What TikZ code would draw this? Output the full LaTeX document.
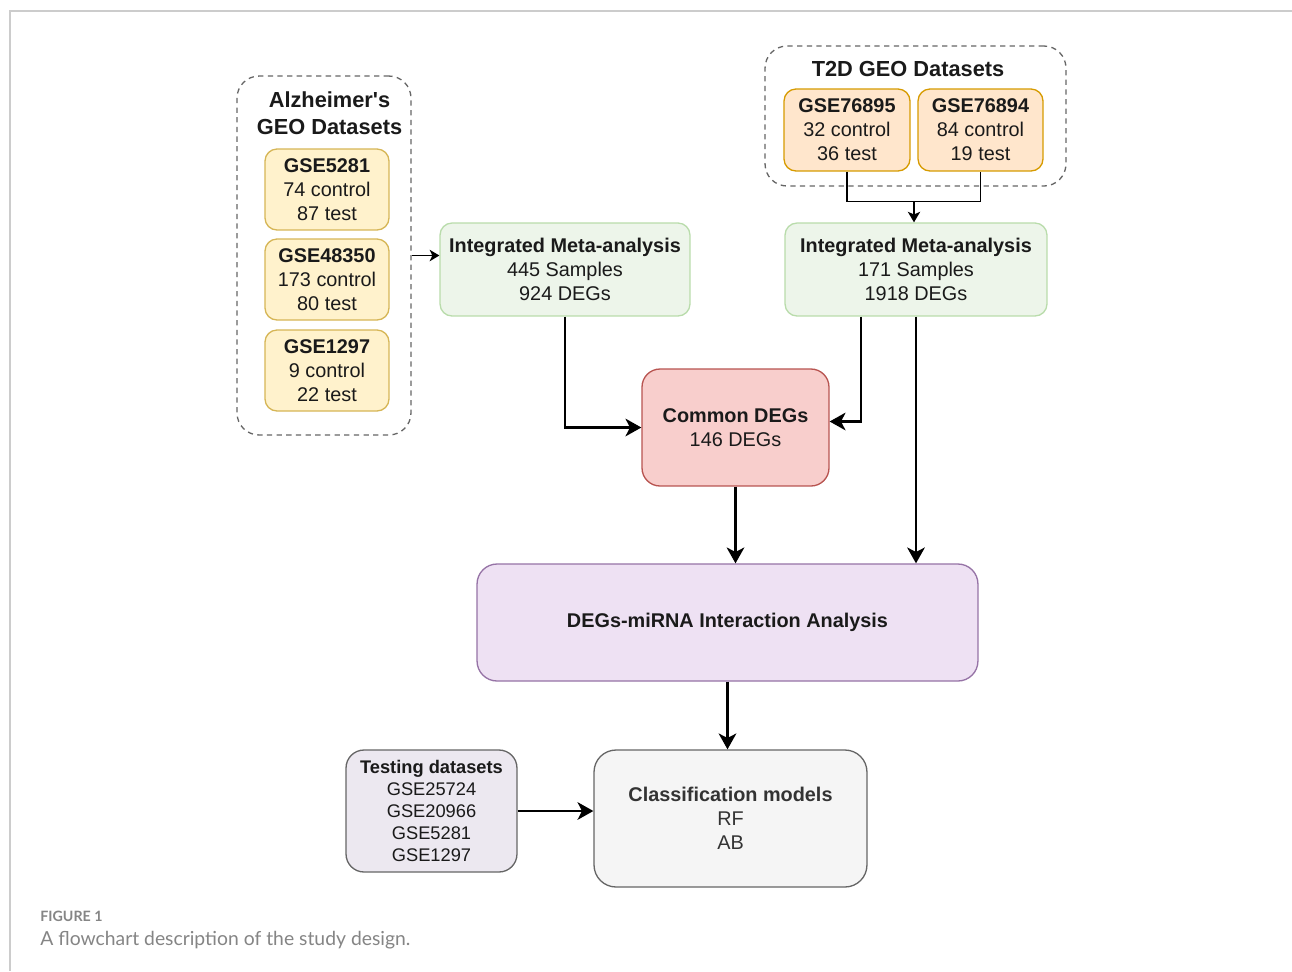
\documentclass[tikz,border=0pt]{standalone}
\usepackage{fontspec}
\setmainfont{Liberation Sans}
\newfontfamily\capfont{Lato}
\usetikzlibrary{arrows.meta,calc}
\definecolor{txt}{HTML}{1A1A1A}
\definecolor{ylwfill}{HTML}{FFF2CC}
\definecolor{ylwdraw}{HTML}{D6B656}
\definecolor{orgfill}{HTML}{FFE6CC}
\definecolor{orgdraw}{HTML}{D79B00}
\definecolor{grnfill}{HTML}{EDF5EA}
\definecolor{grndraw}{HTML}{B9DCAB}
\definecolor{redfill}{HTML}{F8CECC}
\definecolor{reddraw}{HTML}{B85450}
\definecolor{prpfill}{HTML}{EEE1F3}
\definecolor{prpdraw}{HTML}{9673A6}
\definecolor{tstfill}{HTML}{ECE8F0}
\definecolor{gryfill}{HTML}{F5F5F5}
\definecolor{grydraw}{HTML}{666666}
\definecolor{frame}{HTML}{CCCCCC}
\definecolor{captxt}{HTML}{858585}

\begin{document}
\begin{tikzpicture}
[x=.02cm,y=-.02cm,
font=\fontsize{11.3}{13.6}\selectfont,
block/.style={draw,rounded corners=.24cm,line width=.75pt,align=center,inner sep=0pt,text=txt},
dsnode/.style={block,draw=ylwdraw,fill=ylwfill,minimum width=2.48cm,minimum height=1.62cm},
t2node/.style={block,draw=orgdraw,fill=orgfill,minimum height=1.64cm},
meta/.style={block,draw=grndraw,fill=grnfill,minimum height=1.86cm},
group/.style={draw=grydraw,line width=.75pt,dash pattern=on 3pt off 2.5pt,rounded corners=.44cm,inner sep=0pt},
title/.style={font=\fontsize{12.4}{15.3}\selectfont\bfseries,align=center,text=txt},
edge/.style={line width=1.4pt,-{Stealth[length=9pt,width=10pt,inset=2.5pt]}},
thinedge/.style={line width=.8pt,-{Stealth[length=6pt,width=7pt,inset=1.5pt]}},
caption/.style={anchor=west,inner sep=0pt,text=captxt}]
%%
\useasboundingbox[fill=white] (0,0) rectangle (1292,971);
\draw[frame,line width=.8pt] (1292,11) -- (10,11) -- (10,971);
%%
\node (alz) [group,minimum width=3.48cm,minimum height=7.18cm] at (324,255.5) {};
\node (alzt) [title] at (329.5,113.5) {Alzheimer\textquotesingle s\\GEO Datasets};
\node (gse5281) [dsnode] at (327,189.5) {\textbf{GSE5281}\\74 control\\87 test};
\node (gse48350) [dsnode] at (327,279.5) {\textbf{GSE48350}\\173 control\\80 test};
\node (gse1297) [dsnode] at (327,370.5) {\textbf{GSE1297}\\9 control\\22 test};
%%
\node (t2d) [group,minimum width=6.02cm,minimum height=2.8cm] at (915.5,116) {};
\node (t2dt) [title] at (908,69) {T2D GEO Datasets};
\node (gse76895) [t2node,minimum width=2.52cm] at (847,130) {\textbf{GSE76895}\\32 control\\36 test};
\node (gse76894) [t2node,minimum width=2.5cm] at (980.5,130) {\textbf{GSE76894}\\84 control\\19 test};
%%
\node (metaad) [meta,minimum width=5cm] at (565,269.5) {\textbf{Integrated Meta-analysis}\\445 Samples\\924 DEGs};
\node (metat2d) [meta,minimum width=5.24cm] at (916,269.5) {\textbf{Integrated Meta-analysis}\\171 Samples\\1918 DEGs};
\node (common) [block,draw=reddraw,fill=redfill,rounded corners=.36cm,minimum width=3.74cm,minimum height=2.34cm] at (735.5,427.5) {\textbf{Common DEGs}\\146 DEGs};
\node (mirna) [block,draw=prpdraw,fill=prpfill,rounded corners=.4cm,minimum width=10.02cm,minimum height=2.34cm] at (727.5,622.5) {\textbf{DEGs-miRNA Interaction Analysis}};
\node (classif) [block,draw=grydraw,fill=gryfill,text=black!80,rounded corners=.44cm,minimum width=5.46cm,minimum height=2.74cm] at (730.5,818.5) {\textbf{Classification models}\\RF\\AB};
\node (testing) [block,draw=grydraw,fill=tstfill,rounded corners=.36cm,minimum width=3.42cm,minimum height=2.44cm,font=\fontsize{10.4}{12.5}\selectfont] at (431.5,811) {\textbf{Testing datasets}\\GSE25724\\GSE20966\\GSE5281\\GSE1297};
%%
\draw[line width=1pt,-{Stealth[length=5.5pt,width=6.5pt,inset=1.5pt]}] (alz.east) -- (alz.east -| metaad.west);
\coordinate (merge) at ($(metat2d.north)+(-2,-21)$);
\draw[line width=.8pt] (gse76895.south) |- (merge) -| (gse76894.south);
\draw[thinedge] (merge) -- (merge |- metat2d.north);
\draw[edge] (metaad.south) |- (common.west);
\draw[edge] ($(metat2d.south)+(-55,0)$) |- ($(common.east)+(0,-6)$);
\draw[edge] (common.south) -- (common.south |- mirna.north);
\draw[edge] (metat2d.south) -- (metat2d.south |- mirna.north);
\draw[edge] (mirna.south) -- (mirna.south |- classif.north);
\draw[edge] (testing.east) -- (testing.east -| classif.west);
%%
\node (figno) [caption,font=\capfont\fontsize{8.1}{9}\selectfont\bfseries] at (40,916) {FIGURE 1};
\node (figcap) [caption,font=\capfont\fontsize{11}{12}\selectfont] at (40,940) {A flowchart description of the study design.};
\end{tikzpicture}
\end{document}
